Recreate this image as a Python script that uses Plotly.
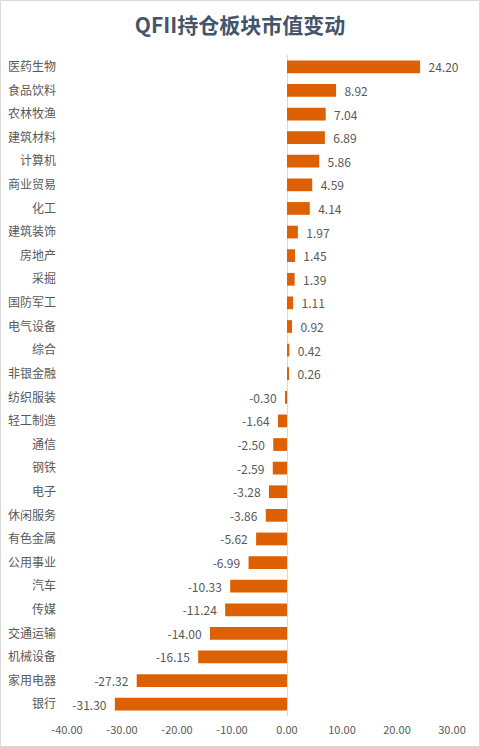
import plotly.graph_objects as go

categories = ["医药生物", "食品饮料", "农林牧渔", "建筑材料", "计算机", "商业贸易", "化工",
              "建筑装饰", "房地产", "采掘", "国防军工", "电气设备", "综合", "非银金融",
              "纺织服装", "轻工制造", "通信", "钢铁", "电子", "休闲服务", "有色金属",
              "公用事业", "汽车", "传媒", "交通运输", "机械设备", "家用电器", "银行"]
values = [24.20, 8.92, 7.04, 6.89, 5.86, 4.59, 4.14, 1.97, 1.45, 1.39, 1.11, 0.92, 0.42, 0.26,
          -0.30, -1.64, -2.50, -2.59, -3.28, -3.86, -5.62, -6.99, -10.33, -11.24, -14.00,
          -16.15, -27.32, -31.30]
x_ticks = [-40, -30, -20, -10, 0, 10, 20, 30]
title = "QFII持仓板块市值变动"

font = "Noto Sans CJK SC"
pad = "\u00a0\u00a0"
labels = [(pad + f"{v:.2f}") if v >= 0 else (f"{v:.2f}" + pad) for v in values]

fig = go.Figure(go.Bar(
    y=categories, x=values, orientation="h",
    marker=dict(color="#DD6103", line=dict(width=0)),
    text=labels, textposition="outside", constraintext="none",
    textfont=dict(family=font, size=12, color="#595959"),
    cliponaxis=False,
))
fig.update_layout(
    width=480, height=747,
    paper_bgcolor="white", plot_bgcolor="white",
    margin=dict(l=67, r=28, t=55, b=31),
    showlegend=False,
    bargap=0.46,
    title=dict(text=f"<b>{title}</b>", x=0.5, xanchor="center", y=0.966, yanchor="middle",
               font=dict(family=font, size=21, color="#44546A")),
    font=dict(family=font, color="#595959"),
)
fig.update_xaxes(range=[-40, 30], tickvals=x_ticks, ticktext=[f"{t:.2f}" for t in x_ticks],
                 showgrid=False, zeroline=True, zerolinecolor="#D9D9D9", zerolinewidth=1,
                 showline=False, ticks="", tickfont=dict(family=font, size=11, color="#595959"),
                 ticklabelstandoff=6, automargin=False)
fig.update_yaxes(autorange="reversed", showgrid=False, zeroline=False, showline=False, ticks="",
                 tickfont=dict(family=font, size=12, color="#595959"), ticklabelstandoff=10,
                 automargin=False)
fig.add_shape(type="rect", xref="paper", yref="paper", x0=-66.5/385, x1=1+27.5/385,
              y0=-30.5/661, y1=1+54.5/661, line=dict(color="#D9D9D9", width=1))
fig.write_html("out.html", config={"displayModeBar": False})

with open("out.html", encoding="utf-8") as f:
    html = f.read()
html = html.replace("<head>", "<head><style>html,body{margin:0;padding:0;overflow:hidden;}</style>", 1)
with open("out.html", "w", encoding="utf-8") as f:
    f.write(html)
